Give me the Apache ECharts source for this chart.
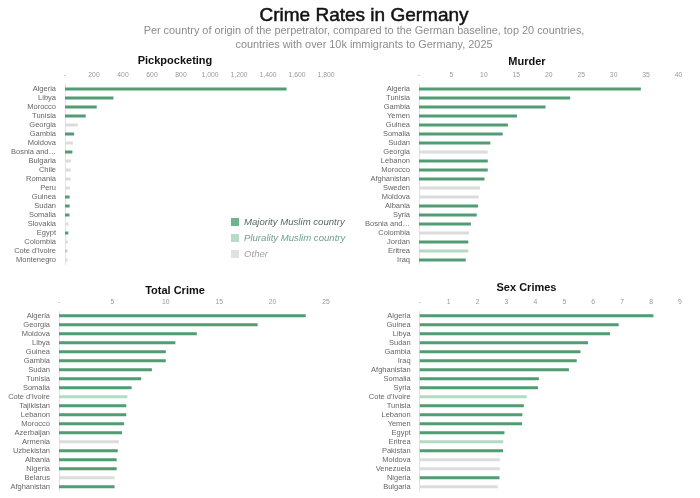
<!DOCTYPE html>
<html>
<head>
<meta charset="utf-8">
<script src="https://cdn.jsdelivr.net/npm/echarts@6/dist/echarts.min.js"></script>
<style>
  html, body { margin: 0; padding: 0; background: #fff; }
  #main { width: 700px; height: 498px; }
</style>
</head>
<body>
<div id="main"></div>
<script type="text/javascript">
    // M = majority Muslim, P = plurality Muslim, O = other
    var pickCountries = ['Algeria', 'Libya', 'Morocco', 'Tunisia', 'Georgia', 'Gambia', 'Moldova', 'Bosnia and Herzegovina', 'Bulgaria', 'Chile',
        'Romania', 'Peru', 'Guinea', 'Sudan', 'Somalia', 'Slovakia', 'Egypt', 'Colombia', "Cote d'Ivoire", 'Montenegro'];
    var pickValues = [1528, 334, 219, 143, 88, 63, 54, 51, 42, 40, 39, 34, 32, 32, 31, 24, 23, 19, 18, 18];
    var pickGroups = ['M', 'M', 'M', 'M', 'O', 'M', 'O', 'M', 'O', 'O', 'O', 'O', 'M', 'M', 'M', 'O', 'M', 'O', 'P', 'O'];

    var murderCountries = ['Algeria', 'Tunisia', 'Gambia', 'Yemen', 'Guinea', 'Somalia', 'Sudan', 'Georgia', 'Lebanon', 'Morocco',
        'Afghanistan', 'Sweden', 'Moldova', 'Albania', 'Syria', 'Bosnia and Herzegovina', 'Colombia', 'Jordan', 'Eritrea', 'Iraq'];
    var murderValues = [34.2, 23.3, 19.5, 15.1, 13.7, 12.9, 11.0, 10.6, 10.6, 10.6, 10.1, 9.4, 9.2, 9.1, 8.9, 8.0, 7.7, 7.6, 7.6, 7.2];
    var murderGroups = ['M', 'M', 'M', 'M', 'M', 'M', 'M', 'O', 'M', 'M', 'M', 'O', 'O', 'M', 'M', 'M', 'O', 'M', 'P', 'M'];

    var totalCountries = ['Algeria', 'Georgia', 'Moldova', 'Libya', 'Guinea', 'Gambia', 'Sudan', 'Tunisia', 'Somalia', "Cote d'Ivoire",
        'Tajikistan', 'Lebanon', 'Morocco', 'Azerbaijan', 'Armenia', 'Uzbekistan', 'Albania', 'Nigeria', 'Belarus', 'Afghanistan'];
    var totalValues = [23.1, 18.6, 12.9, 10.9, 10.0, 10.0, 8.7, 7.7, 6.8, 6.4, 6.3, 6.3, 6.1, 5.9, 5.6, 5.5, 5.4, 5.4, 5.2, 5.2];
    var totalGroups = ['M', 'M', 'M', 'M', 'M', 'M', 'M', 'M', 'M', 'P', 'M', 'M', 'M', 'M', 'O', 'M', 'M', 'M', 'O', 'M'];

    var sexCountries = ['Algeria', 'Guinea', 'Libya', 'Sudan', 'Gambia', 'Iraq', 'Afghanistan', 'Somalia', 'Syria', "Cote d'Ivoire",
        'Tunisia', 'Lebanon', 'Yemen', 'Egypt', 'Eritrea', 'Pakistan', 'Moldova', 'Venezuela', 'Nigeria', 'Bulgaria'];
    var sexValues = [8.08, 6.88, 6.58, 5.82, 5.56, 5.43, 5.16, 4.12, 4.09, 3.70, 3.60, 3.55, 3.54, 2.93, 2.89, 2.88, 2.77, 2.77, 2.76, 2.70];
    var sexGroups = ['M', 'M', 'M', 'M', 'M', 'M', 'M', 'M', 'M', 'P', 'M', 'M', 'M', 'M', 'P', 'M', 'O', 'O', 'M', 'O'];

    var groupNames = { M: 'Majority Muslim country', P: 'Plurality Muslim country', O: 'Other' };
    var groupColors = { M: '#519d73', P: '#b4dac4', O: '#dcdcdc' };

    var FONT = '"Liberation Sans", Arial, sans-serif';

    var panels = [
        { name: 'Pickpocketing', countries: pickCountries, values: pickValues, groups: pickGroups,
          left: 65, top: 84.5, width: 261, max: 1800, interval: 200, tx: 175, ty: 61 },
        { name: 'Murder', countries: murderCountries, values: murderValues, groups: murderGroups,
          left: 419, top: 84.5, width: 259.5, max: 40, interval: 5, tx: 527, ty: 62 },
        { name: 'Total Crime', countries: totalCountries, values: totalValues, groups: totalGroups,
          left: 59, top: 311.2, width: 267, max: 25, interval: 5, tx: 175, ty: 290.5 },
        { name: 'Sex Crimes', countries: sexCountries, values: sexValues, groups: sexGroups,
          left: 419.7, top: 311.2, width: 260.3, max: 9, interval: 1, tx: 526.5, ty: 288 }
    ];

    var grids = [], xAxes = [], yAxes = [], series = [], graphics = [];

    graphics.push({
        type: 'text', x: 364, y: 16,
        style: { text: 'Crime Rates in Germany', font: '19px ' + FONT, fill: '#111',
                 stroke: '#111', lineWidth: 0.5, align: 'center', verticalAlign: 'middle' }
    });
    graphics.push({
        type: 'text', x: 364, y: 31,
        style: { text: 'Per country of origin of the perpetrator, compared to the German baseline, top 20 countries,',
                 font: '10.9px ' + FONT, fill: '#8c8c8c', align: 'center', verticalAlign: 'middle' }
    });
    graphics.push({
        type: 'text', x: 364, y: 44.5,
        style: { text: 'countries with over 10k immigrants to Germany, 2025',
                 font: '10.9px ' + FONT, fill: '#8c8c8c', align: 'center', verticalAlign: 'middle' }
    });

    panels.forEach(function (p, i) {
        grids.push({ left: p.left, top: p.top, width: p.width, height: 180 });
        xAxes.push({
            gridIndex: i,
            type: 'value',
            position: 'top',
            min: 0,
            max: p.max,
            interval: p.interval,
            splitLine: { show: false },
            axisLine: { show: false },
            axisTick: { show: false },
            axisLabel: {
                color: '#999', fontSize: 6.8, fontFamily: FONT, margin: 6,
                formatter: function (v) { return v === 0 ? '-' : v.toLocaleString('en-US'); }
            }
        });
        yAxes.push({
            gridIndex: i,
            type: 'category',
            inverse: true,
            data: p.countries,
            axisTick: { show: false },
            axisLine: { show: true, lineStyle: { color: '#e2e2e2', width: 1 } },
            axisLabel: {
                interval: 0,
                color: '#666', fontSize: 7.5, fontFamily: FONT, margin: 9,
                formatter: function (v) { return v.length > 14 ? v.slice(0, 10) + '…' : v; }
            }
        });
        series.push({
            type: 'bar',
            xAxisIndex: i,
            yAxisIndex: i,
            barWidth: 3,
            silent: true,
            data: p.values.map(function (v, k) {
                return { value: v, itemStyle: { color: groupColors[p.groups[k]] } };
            })
        });
        graphics.push({
            type: 'text', x: p.tx, y: p.ty,
            style: { text: p.name, font: 'bold 11px ' + FONT, fill: '#111', align: 'center', verticalAlign: 'middle' }
        });
    });

    // empty series only to feed the legend
    ['M', 'P', 'O'].forEach(function (g) {
        series.push({
            type: 'scatter',
            name: groupNames[g],
            xAxisIndex: 0,
            yAxisIndex: 0,
            data: [],
            itemStyle: { color: groupColors[g] }
        });
    });

    var myChart = echarts.init(document.getElementById('main'), null, { renderer: 'canvas' });
    var option = {
        backgroundColor: '#fff',
        animation: false,
        grid: grids,
        xAxis: xAxes,
        yAxis: yAxes,
        series: series,
        graphic: graphics,
        legend: {
            orient: 'vertical',
            left: 231,
            top: 217,
            padding: 0,
            icon: 'rect',
            itemWidth: 8,
            itemHeight: 8,
            itemGap: 6,
            selectedMode: false,
            textStyle: { fontSize: 9.6, fontStyle: 'italic', fontFamily: FONT },
            data: [
                { name: 'Majority Muslim country', itemStyle: { color: '#519d73' }, textStyle: { color: '#566b60' } },
                { name: 'Plurality Muslim country', itemStyle: { color: '#a6d1ba' }, textStyle: { color: '#6ea287' } },
                { name: 'Other', itemStyle: { color: '#dadada' }, textStyle: { color: '#a3a3a3' } }
            ]
        }
    };
    myChart.setOption(option);
</script>
</body>
</html>
